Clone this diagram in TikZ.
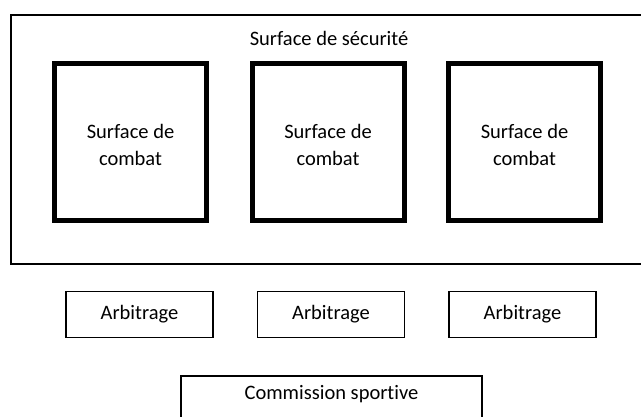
\documentclass[tikz,border=0pt]{standalone}
\usepackage{fontspec}
\setmainfont{Carlito}[Ligatures=NoCommon]
\begin{document}
\begin{tikzpicture}[x=1pt,y=-1pt,
  combatbox/.style={draw=black,line width=5pt,inner sep=0pt,minimum width=152pt,minimum height=157pt},
  arbbox/.style={draw=black,line width=1.6pt,inner sep=0pt,minimum width=147pt,minimum height=46pt,font=\fontsize{20.5}{26.5}\selectfont},
  label/.style={inner sep=0pt,align=center,font=\fontsize{20.5}{26.5}\selectfont}]
\useasboundingbox (0,0) rectangle (641,416);
\clip (0,0) rectangle (641,416);
\fill[white] (0,0) rectangle (641,416);
\draw[line width=2pt] (10.5,15) rectangle (680,263.5);
\node[label,anchor=base] (titre) at (329,45) {Surface de sécurité};
\node[combatbox] (c1) at (130.5,142) {};
\node[combatbox] (c2) at (328,142) {};
\node[combatbox] (c3) at (524.5,142) {};
\node[label] (t1) at ([yshift=-3pt]c1.center) {Surface de\\combat};
\node[label] (t2) at ([yshift=-3pt]c2.center) {Surface de\\combat};
\node[label] (t3) at ([yshift=-3pt]c3.center) {Surface de\\combat};
\node[arbbox] (a1) at (139.5,314.5) {Arbitrage};
\node[arbbox] (a2) at (331,314.5) {Arbitrage};
\node[arbbox] (a3) at (522.5,314.5) {Arbitrage};
\node[draw=black,line width=1.6pt,minimum width=301.5pt,minimum height=70pt,anchor=north] (cs) at (331.5,375) {};
\node[label] (cst) at (331.5,394) {Commission sportive};
\end{tikzpicture}
\end{document}
